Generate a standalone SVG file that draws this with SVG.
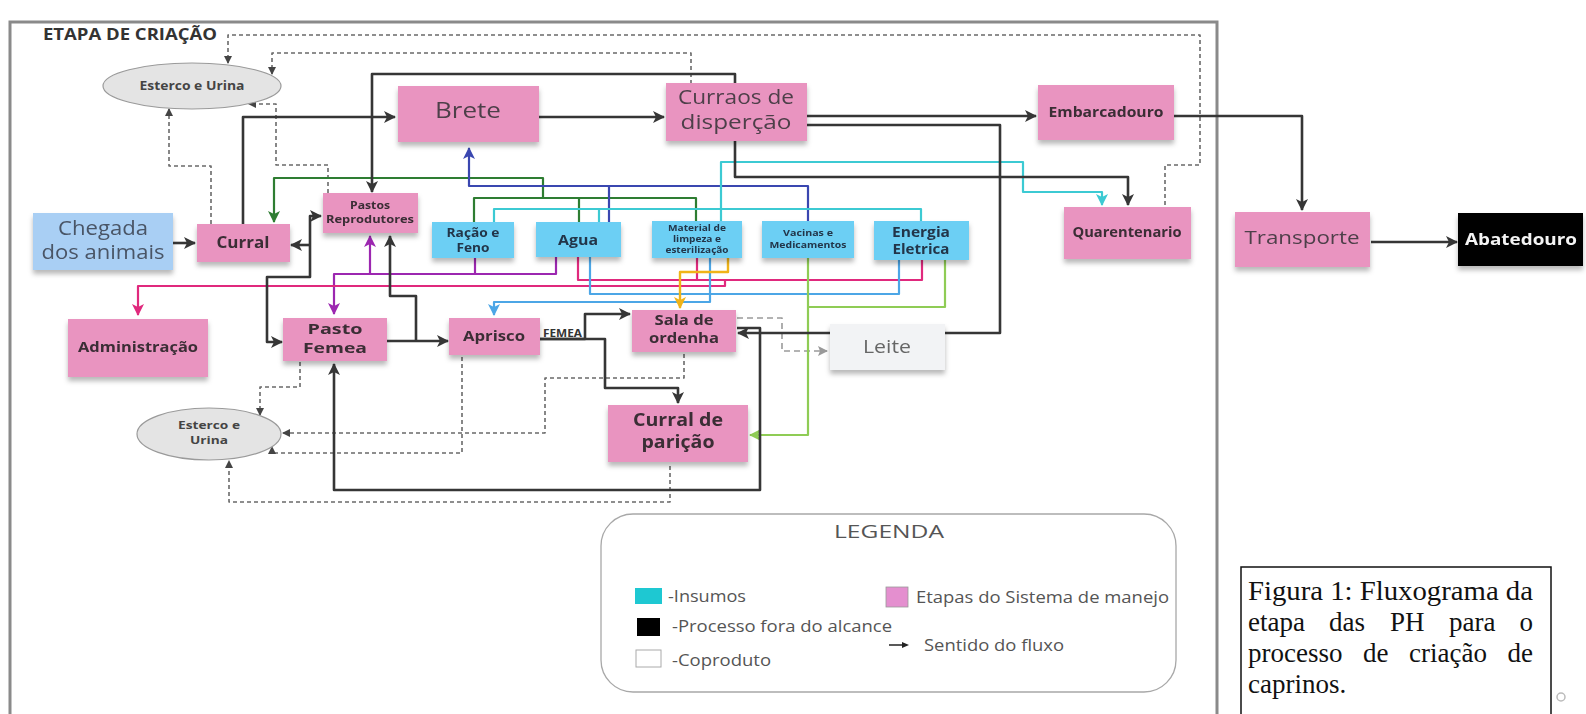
<svg xmlns="http://www.w3.org/2000/svg" width="1586" height="714" viewBox="0 0 1586 714">
<style>
text{font-family:"Open Sans","Noto Sans","DejaVu Sans",sans-serif;text-anchor:middle}
.b{font-weight:bold;fill:#3a2d35}
.r{fill:#4e3f49}
.ins{font-weight:bold;fill:#23364a}
.pk{fill:#e994c0}
.bl{fill:#6ccff4}
.ln{fill:none;stroke-linejoin:round;stroke-linecap:butt}
.k{stroke:#363636;stroke-width:2.6}
.d{stroke:#6a6a6a;stroke-width:1.6;stroke-dasharray:4 3}
.dl{stroke:#9a9a9a;stroke-width:1.6;stroke-dasharray:6 4}
.g{stroke:#2e7d32;stroke-width:2.2}
.ib{stroke:#3a47b0;stroke-width:2.2}
.cy{stroke:#3ccad3;stroke-width:2.2}
.pu{stroke:#9c27b0;stroke-width:2.2}
.pi{stroke:#e0297d;stroke-width:2.2}
.lb{stroke:#4ca6e6;stroke-width:2.2}
.ye{stroke:#f0b418;stroke-width:2.4}
.lg{stroke:#8fcc55;stroke-width:2.2}
.lt{fill:#555;text-anchor:start;font-size:16px}
.fig{font-family:"Liberation Serif","Times New Roman",serif;font-size:27px;fill:#111;text-anchor:start}
</style>
<defs>
<filter id="sh" x="-10%" y="-10%" width="120%" height="140%"><feDropShadow dx="0" dy="4" stdDeviation="2.5" flood-color="#000" flood-opacity="0.28"/></filter>
<marker id="ak" markerUnits="userSpaceOnUse" markerWidth="12" markerHeight="12" refX="11" refY="6" orient="auto"><path d="M0,0 L12,6 L0,12 L3,6 z" fill="#363636"/></marker>
<marker id="ad" markerUnits="userSpaceOnUse" markerWidth="8" markerHeight="8" refX="7" refY="4" orient="auto"><path d="M0,0 L8,4 L0,8 z" fill="#444"/></marker>
<marker id="adl" markerUnits="userSpaceOnUse" markerWidth="10" markerHeight="10" refX="9" refY="5" orient="auto"><path d="M0,0 L10,5 L0,10 L2,5 z" fill="#999"/></marker>
<marker id="ag" markerUnits="userSpaceOnUse" markerWidth="12" markerHeight="12" refX="11" refY="6" orient="auto"><path d="M0,0 L12,6 L0,12 L3,6 z" fill="#2e7d32"/></marker>
<marker id="aib" markerUnits="userSpaceOnUse" markerWidth="12" markerHeight="12" refX="11" refY="6" orient="auto"><path d="M0,0 L12,6 L0,12 L3,6 z" fill="#3a47b0"/></marker>
<marker id="acy" markerUnits="userSpaceOnUse" markerWidth="12" markerHeight="12" refX="11" refY="6" orient="auto"><path d="M0,0 L12,6 L0,12 L3,6 z" fill="#3ccad3"/></marker>
<marker id="apu" markerUnits="userSpaceOnUse" markerWidth="12" markerHeight="12" refX="11" refY="6" orient="auto"><path d="M0,0 L12,6 L0,12 L3,6 z" fill="#9c27b0"/></marker>
<marker id="api" markerUnits="userSpaceOnUse" markerWidth="12" markerHeight="12" refX="11" refY="6" orient="auto"><path d="M0,0 L12,6 L0,12 L3,6 z" fill="#e0297d"/></marker>
<marker id="alb" markerUnits="userSpaceOnUse" markerWidth="12" markerHeight="12" refX="11" refY="6" orient="auto"><path d="M0,0 L12,6 L0,12 L3,6 z" fill="#4ca6e6"/></marker>
<marker id="aye" markerUnits="userSpaceOnUse" markerWidth="12" markerHeight="12" refX="11" refY="6" orient="auto"><path d="M0,0 L12,6 L0,12 L3,6 z" fill="#f0b418"/></marker>
<marker id="alg" markerUnits="userSpaceOnUse" markerWidth="12" markerHeight="12" refX="11" refY="6" orient="auto"><path d="M0,0 L12,6 L0,12 L3,6 z" fill="#8fcc55"/></marker>
</defs>
<rect width="1586" height="714" fill="#fff"/>
<path d="M10 720 V22 H1217 V720" fill="none" stroke="#8a8a8a" stroke-width="3"/>
<text x="43" y="40" textLength="174" lengthAdjust="spacingAndGlyphs" style="font-weight:bold;font-size:16px;fill:#333;text-anchor:start">ETAPA DE CRIAÇÃO</text>

<g id="connectors">
<path class="ln d" d="M1165 205 V165 H1200 V35 H228 V63" marker-end="url(#ad)"/>
<path class="ln d" d="M691 84 V53 H272 V74" marker-end="url(#ad)"/>
<path class="ln d" d="M328 193 V165 H276 V104 H249" marker-end="url(#ad)"/>
<path class="ln d" d="M211 224 V166 H169 V109" marker-end="url(#ad)"/>
<path class="ln d" d="M300 362 V387 H260 V415" marker-end="url(#ad)"/>
<path class="ln d" d="M684 354 V378 H545 V433 H283" marker-end="url(#ad)"/>
<path class="ln d" d="M462 357 V453 H272 V447" marker-end="url(#ad)"/>
<path class="ln d" d="M670 466 V502 H229 V461" marker-end="url(#ad)"/>
<path class="ln dl" d="M737 318 H782 V351 H827" marker-end="url(#adl)"/>
<path class="ln g" d="M474 222 V198 H696 V222 M579 222 V198"/>
<path class="ln g" d="M543 198 V178 H274 V222" marker-end="url(#ag)"/>
<path class="ln ib" d="M609 222 V186"/>
<path class="ln ib" d="M808 222 V186 H469 V148" marker-end="url(#aib)"/>
<path class="ln cy" d="M494 222 V209 H921 V221 M599 222 V209"/>
<path class="ln cy" d="M721 221 V162 H1023 V192 H1102 V205" marker-end="url(#acy)"/>
<path class="ln pu" d="M475 258 V274"/>
<path class="ln pu" d="M556 257 V274 H334 V314" marker-end="url(#apu)"/>
<path class="ln pu" d="M370 274 V236" marker-end="url(#apu)"/>
<path class="ln pi" d="M578 257 V280 H922 V260 M697 258 V280"/>
<path class="ln pi" d="M725 280 V286 H138 V315" marker-end="url(#api)"/>
<path class="ln lb" d="M590 257 V294 H899 V260"/>
<path class="ln lb" d="M710 258 V302 H494 V315" marker-end="url(#alb)"/>
<path class="ln ye" d="M728 258 V272 H680 V308" marker-end="url(#aye)"/>
<path class="ln lg" d="M945 260 V307 H808"/>
<path class="ln lg" d="M808 258 V435 H750" marker-end="url(#alg)"/>
<path class="ln k" d="M173 243 H195" marker-end="url(#ak)"/>
<path class="ln k" d="M243 224 V117 H395" marker-end="url(#ak)"/>
<path class="ln k" d="M539 117 H664" marker-end="url(#ak)"/>
<path class="ln k" d="M735 83 V74 H372 V192" marker-end="url(#ak)"/>
<path class="ln k" d="M807 116 H1036" marker-end="url(#ak)"/>
<path class="ln k" d="M807 125 H1000 V333 H738" marker-end="url(#ak)"/>
<path class="ln k" d="M735 141 V177 H1128 V205" marker-end="url(#ak)"/>
<path class="ln k" d="M1174 116 H1302 V210" marker-end="url(#ak)"/>
<path class="ln k" d="M1371 242 H1457" marker-end="url(#ak)"/>
<path class="ln k" d="M310 245 V216 H321" marker-end="url(#ak)"/>
<path class="ln k" d="M310 245 H291" marker-end="url(#ak)"/>
<path class="ln k" d="M310 245 V277 H267 V342 H282" marker-end="url(#ak)"/>
<path class="ln k" d="M387 341 H448" marker-end="url(#ak)"/>
<path class="ln k" d="M416 341 V296 H390 V236" marker-end="url(#ak)"/>
<path class="ln k" d="M540 339 H585 V314 H630" marker-end="url(#ak)"/>
<path class="ln k" d="M540 339 H605 V388 H678 V403" marker-end="url(#ak)"/>
<path class="ln k" d="M737 328 H760 V490 H334 V364" marker-end="url(#ak)"/>
</g>
<text x="543" y="337" textLength="39" lengthAdjust="spacingAndGlyphs" style="font-weight:bold;font-size:10px;fill:#333;text-anchor:start">FEMEA</text>

<g id="esterco-top"><ellipse cx="192" cy="86" rx="89" ry="23" fill="#e4e4e4" stroke="#9a9a9a" stroke-width="1.2"/><text x="192" y="90" textLength="105" lengthAdjust="spacingAndGlyphs" style="font-weight:bold;font-size:12px;fill:#444">Esterco e Urina</text></g>
<g id="chegada" filter="url(#sh)"><rect x="33" y="213" width="140" height="57" fill="#a9cff4"/><text x="103" y="235" textLength="90" lengthAdjust="spacingAndGlyphs" style="font-size:19.5px;fill:#4a5566">Chegada</text><text x="103" y="259" textLength="123" lengthAdjust="spacingAndGlyphs" style="font-size:19.5px;fill:#4a5566">dos animais</text></g>
<g id="curral" filter="url(#sh)"><rect class="pk" x="197" y="224" width="93" height="38"/><text x="243" y="248" textLength="53" lengthAdjust="spacingAndGlyphs" class="b" style="font-size:15.5px">Curral</text></g>
<g id="pastos-reprodutores" filter="url(#sh)"><rect class="pk" x="323" y="193" width="95" height="40"/><text x="370" y="209" textLength="40" lengthAdjust="spacingAndGlyphs" class="b" style="font-size:10.5px">Pastos</text><text x="370" y="223" textLength="88" lengthAdjust="spacingAndGlyphs" class="b" style="font-size:10.5px">Reprodutores</text></g>
<g id="brete" filter="url(#sh)"><rect class="pk" x="398" y="86" width="141" height="56"/><text x="468" y="118" textLength="66" lengthAdjust="spacingAndGlyphs" class="r" style="font-size:22px">Brete</text></g>
<g id="curraos" filter="url(#sh)"><rect class="pk" x="666" y="83" width="141" height="58"/><text x="736" y="104" textLength="116" lengthAdjust="spacingAndGlyphs" class="r" style="font-size:19.5px">Curraos de</text><text x="736" y="129" textLength="111" lengthAdjust="spacingAndGlyphs" class="r" style="font-size:19.5px">disperção</text></g>
<g id="embarcadouro" filter="url(#sh)"><rect class="pk" x="1038" y="85" width="136" height="55"/><text x="1106" y="117" textLength="115" lengthAdjust="spacingAndGlyphs" class="b" style="font-size:14.5px">Embarcadouro</text></g>
<g id="quarentenario" filter="url(#sh)"><rect class="pk" x="1064" y="207" width="127" height="52"/><text x="1127" y="237" textLength="109" lengthAdjust="spacingAndGlyphs" class="b" style="font-size:13.5px">Quarentenario</text></g>
<g id="transporte" filter="url(#sh)"><rect class="pk" x="1235" y="212" width="135" height="55"/><text x="1302" y="244" textLength="115" lengthAdjust="spacingAndGlyphs" class="r" style="font-size:19px">Transporte</text></g>
<g id="abatedouro" filter="url(#sh)"><rect x="1458" y="213" width="125" height="53" fill="#050505"/><text x="1521" y="245" textLength="112" lengthAdjust="spacingAndGlyphs" style="font-weight:bold;font-size:16.5px;fill:#f4f4f4">Abatedouro</text></g>
<g id="racao" filter="url(#sh)"><rect class="bl" x="432" y="222" width="82" height="36"/><text x="473" y="237" textLength="53" lengthAdjust="spacingAndGlyphs" class="ins" style="font-size:12px">Ração e</text><text x="473" y="252" textLength="33" lengthAdjust="spacingAndGlyphs" class="ins" style="font-size:12px">Feno</text></g>
<g id="agua" filter="url(#sh)"><rect class="bl" x="536" y="222" width="85" height="35"/><text x="578" y="245" textLength="40" lengthAdjust="spacingAndGlyphs" class="ins" style="font-size:15px">Agua</text></g>
<g id="material" filter="url(#sh)"><rect class="bl" x="652" y="221" width="90" height="37"/><text x="697" y="231" textLength="58" lengthAdjust="spacingAndGlyphs" class="ins" style="font-size:8.5px">Material de</text><text x="697" y="242" textLength="48" lengthAdjust="spacingAndGlyphs" class="ins" style="font-size:8.5px">limpeza e</text><text x="697" y="253" textLength="63" lengthAdjust="spacingAndGlyphs" class="ins" style="font-size:8.5px">esterilização</text></g>
<g id="vacinas" filter="url(#sh)"><rect class="bl" x="762" y="221" width="92" height="37"/><text x="808" y="236" textLength="50" lengthAdjust="spacingAndGlyphs" class="ins" style="font-size:9px">Vacinas e</text><text x="808" y="248" textLength="77" lengthAdjust="spacingAndGlyphs" class="ins" style="font-size:9px">Medicamentos</text></g>
<g id="energia" filter="url(#sh)"><rect class="bl" x="874" y="221" width="95" height="39"/><text x="921" y="237" textLength="58" lengthAdjust="spacingAndGlyphs" class="ins" style="font-size:13.5px">Energia</text><text x="921" y="254" textLength="57" lengthAdjust="spacingAndGlyphs" class="ins" style="font-size:13.5px">Eletrica</text></g>
<g id="administracao" filter="url(#sh)"><rect class="pk" x="68" y="319" width="140" height="58"/><text x="138" y="352" textLength="120" lengthAdjust="spacingAndGlyphs" class="b" style="font-size:14.5px">Administração</text></g>
<g id="pasto-femea" filter="url(#sh)"><rect class="pk" x="283" y="318" width="104" height="43"/><text x="335" y="334" textLength="55" lengthAdjust="spacingAndGlyphs" class="b" style="font-size:14.5px">Pasto</text><text x="335" y="353" textLength="64" lengthAdjust="spacingAndGlyphs" class="b" style="font-size:14.5px">Femea</text></g>
<g id="aprisco" filter="url(#sh)"><rect class="pk" x="449" y="318" width="91" height="37"/><text x="494" y="341" textLength="62" lengthAdjust="spacingAndGlyphs" class="b" style="font-size:14.5px">Aprisco</text></g>
<g id="sala-ordenha" filter="url(#sh)"><rect class="pk" x="632" y="310" width="104" height="42"/><text x="684" y="325" textLength="59" lengthAdjust="spacingAndGlyphs" class="b" style="font-size:14px">Sala de</text><text x="684" y="343" textLength="70" lengthAdjust="spacingAndGlyphs" class="b" style="font-size:14px">ordenha</text></g>
<g id="leite" filter="url(#sh)"><rect x="830" y="324" width="115" height="46" fill="#f2f3f5"/><text x="887" y="353" textLength="48" lengthAdjust="spacingAndGlyphs" style="font-size:19px;fill:#666">Leite</text></g>
<g id="esterco-bottom"><ellipse cx="209" cy="434" rx="72" ry="26" fill="#e4e4e4" stroke="#9a9a9a" stroke-width="1.2"/><text x="209" y="429" textLength="62" lengthAdjust="spacingAndGlyphs" style="font-weight:bold;font-size:11px;fill:#444">Esterco e</text><text x="209" y="444" textLength="38" lengthAdjust="spacingAndGlyphs" style="font-weight:bold;font-size:11px;fill:#444">Urina</text></g>
<g id="curral-paricao" filter="url(#sh)"><rect class="pk" x="608" y="405" width="140" height="57"/><text x="678" y="426" textLength="90" lengthAdjust="spacingAndGlyphs" class="b" style="font-size:17.5px">Curral de</text><text x="678" y="448" textLength="73" lengthAdjust="spacingAndGlyphs" class="b" style="font-size:17.5px">parição</text></g>

<g id="legenda">
<rect x="601" y="514" width="575" height="178" rx="32" fill="#fff" stroke="#a8a8a8" stroke-width="1.3"/>
<text x="889" y="538" textLength="110" lengthAdjust="spacingAndGlyphs" style="font-size:19px;fill:#555">LEGENDA</text>
<rect x="635" y="588" width="27" height="16" fill="#1ec8d2"/>
<text x="668" y="602" textLength="78" lengthAdjust="spacingAndGlyphs" class="lt">-Insumos</text>
<rect x="637" y="618" width="23" height="18" fill="#000"/>
<text x="672" y="632" textLength="220" lengthAdjust="spacingAndGlyphs" class="lt">-Processo fora do alcance</text>
<rect x="636" y="650" width="25" height="17" fill="#fff" stroke="#aaa"/>
<text x="672" y="666" textLength="99" lengthAdjust="spacingAndGlyphs" class="lt">-Coproduto</text>
<rect x="886" y="587" width="22" height="20" fill="#e48fcf" stroke="#999" stroke-width="0.8"/>
<text x="916" y="603" textLength="253" lengthAdjust="spacingAndGlyphs" class="lt">Etapas do Sistema de manejo</text>
<path d="M889 645 H903" stroke="#222" stroke-width="1.5"/><path d="M902 642 L909 645 L902 648 z" fill="#222"/>
<text x="924" y="651" textLength="140" lengthAdjust="spacingAndGlyphs" class="lt">Sentido do fluxo</text>
</g>

<g id="figura">
<rect x="1241" y="567" width="310" height="160" fill="#fff" stroke="#111" stroke-width="1.5"/>
<text class="fig" x="1248" y="600" textLength="285" lengthAdjust="spacingAndGlyphs">Figura 1: Fluxograma da</text>
<text class="fig" y="631"><tspan x="1248">etapa</tspan><tspan x="1329">das</tspan><tspan x="1390">PH</tspan><tspan x="1449">para</tspan><tspan x="1519.5">o</tspan></text>
<text class="fig" y="662"><tspan x="1248">processo</tspan><tspan x="1363">de</tspan><tspan x="1409">criação</tspan><tspan x="1507.5">de</tspan></text>
<text class="fig" x="1248" y="693">caprinos.</text>
</g>
<circle cx="1561" cy="697" r="4" fill="none" stroke="#bbb" stroke-width="1.5"/>
</svg>
